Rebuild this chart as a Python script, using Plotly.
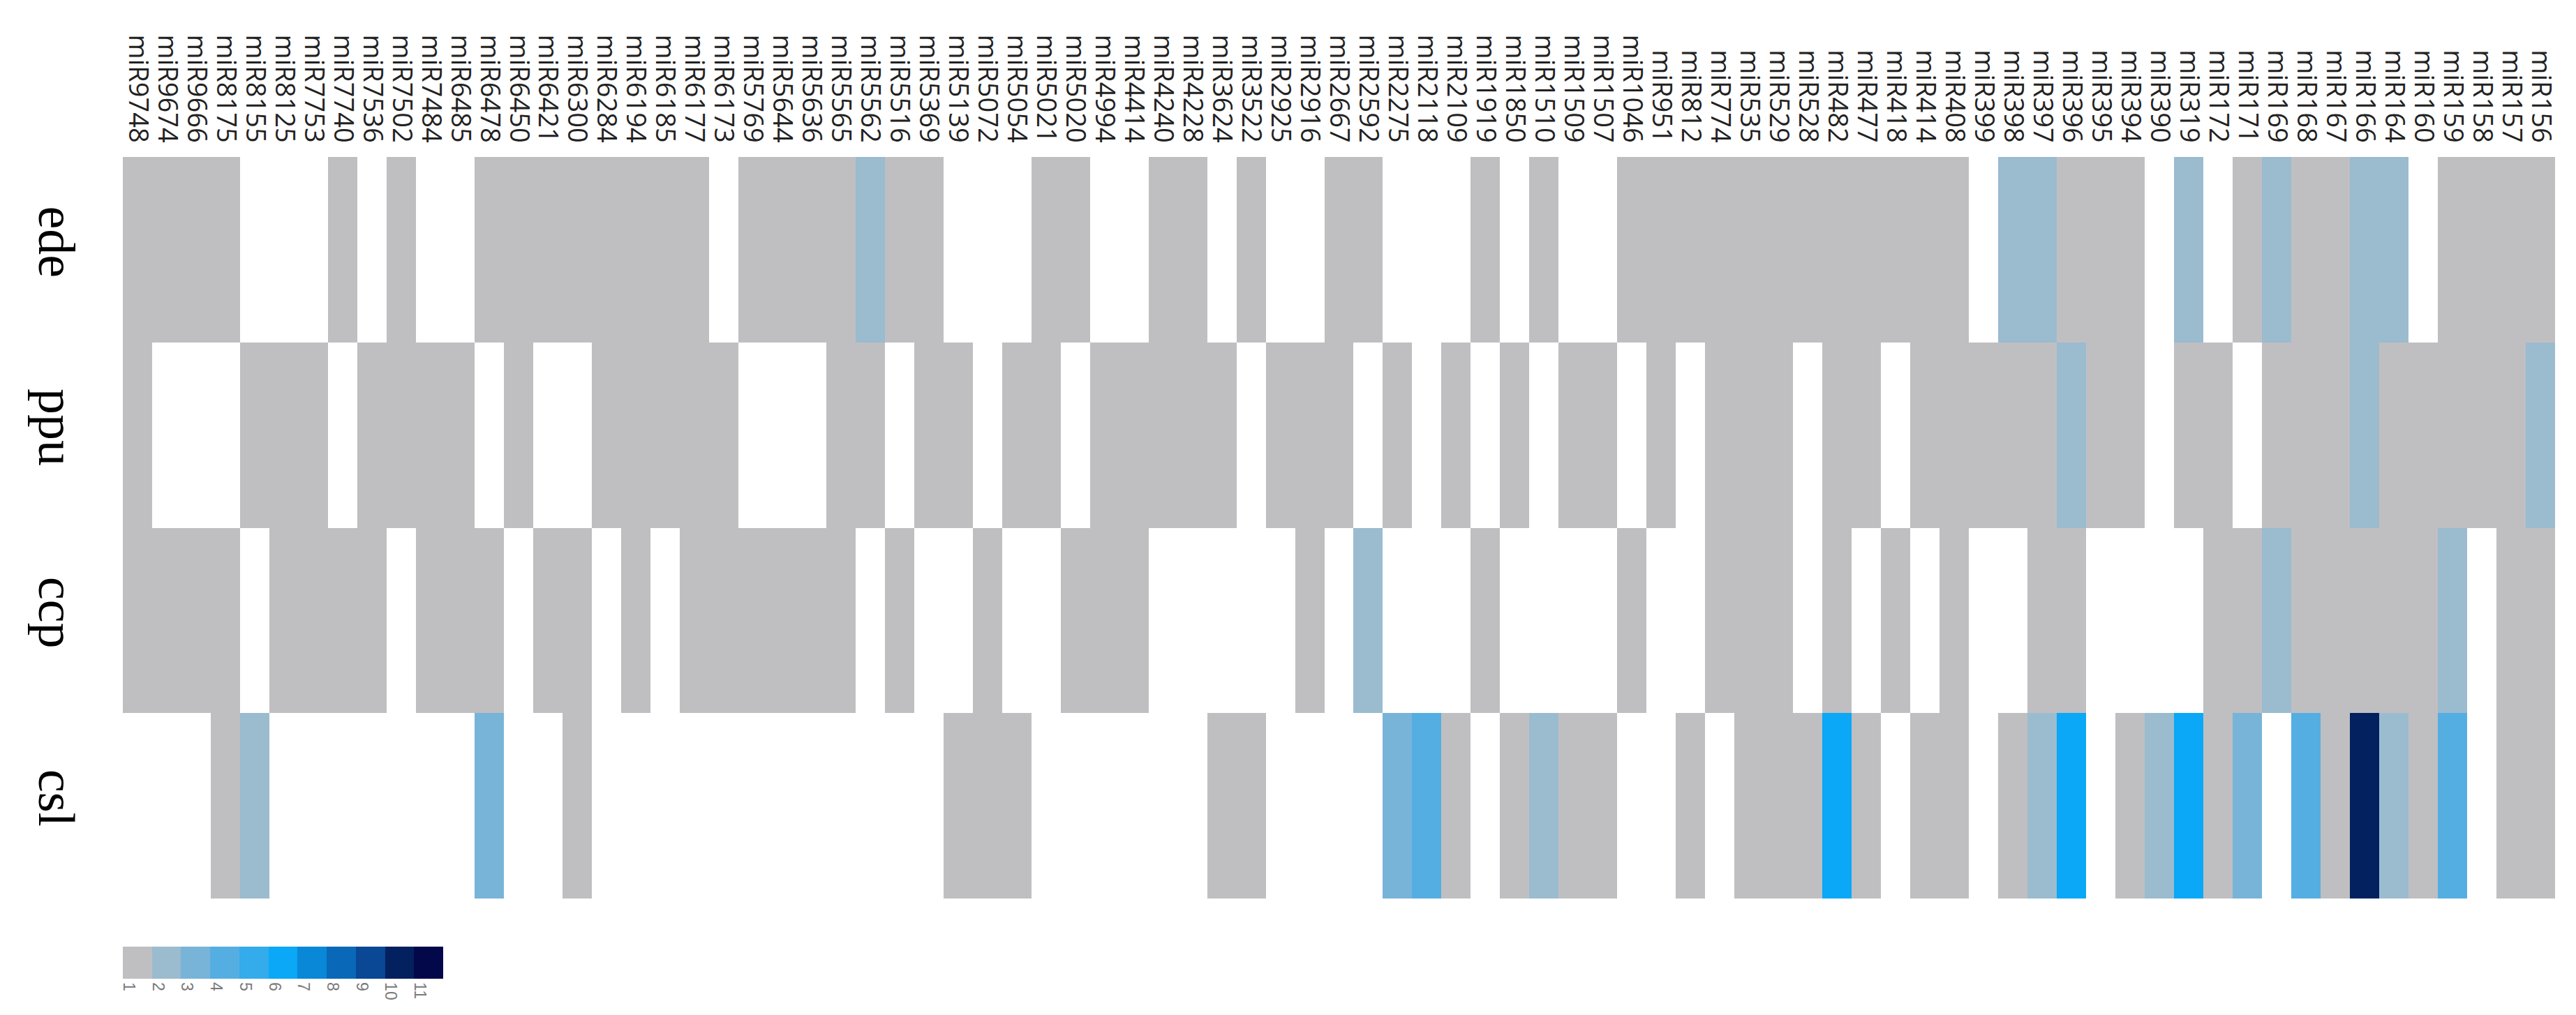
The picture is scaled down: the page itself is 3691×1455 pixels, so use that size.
import plotly.graph_objects as go

mirnas = ["miR9748", "miR9674", "miR9666", "miR8175", "miR8155", "miR8125", "miR7753",
          "miR7740", "miR7536", "miR7502", "miR7484", "miR6485", "miR6478", "miR6450",
          "miR6421", "miR6300", "miR6284", "miR6194", "miR6185", "miR6177", "miR6173",
          "miR5769", "miR5644", "miR5636", "miR5565", "miR5562", "miR5516", "miR5369",
          "miR5139", "miR5072", "miR5054", "miR5021", "miR5020", "miR4994", "miR4414",
          "miR4240", "miR4228", "miR3624", "miR3522", "miR2925", "miR2916", "miR2667",
          "miR2592", "miR2275", "miR2118", "miR2109", "miR1919", "miR1850", "miR1510",
          "miR1509", "miR1507", "miR1046", "miR951", "miR812", "miR774", "miR535",
          "miR529", "miR528", "miR482", "miR477", "miR418", "miR414", "miR408", "miR399",
          "miR398", "miR397", "miR396", "miR395", "miR394", "miR390", "miR319", "miR172",
          "miR171", "miR169", "miR168", "miR167", "miR166", "miR164", "miR160", "miR159",
          "miR158", "miR157", "miR156"]

species = ["ede", "ppu", "ccp", "csl"]

N = None
# number of members per family (None = family absent)
ede = [1, 1, 1, 1, N, N, N, 1, N, 1, N, N, 1, 1, 1, 1, 1, 1, 1, 1, N,
       1, 1, 1, 1, 2, 1, 1, N, N, N, 1, 1, N, N, 1, 1, N, 1, N, N,
       1, 1, N, N, N, 1, N, 1, N, N, 1, 1, 1, 1, 1, 1, 1, 1, 1, 1,
       1, 1, N, 2, 2, 1, 1, 1, N, 2, N, 1, 2, 1, 1, 2, 2, N, 1, 1, 1, 1]
ppu = [1, N, N, N, 1, 1, 1, N, 1, 1, 1, 1, N, 1, N, N, 1, 1, 1, 1, 1,
       N, N, N, 1, 1, N, 1, 1, N, 1, 1, N, 1, 1, 1, 1, 1, N, 1, 1,
       1, N, 1, N, 1, N, 1, N, 1, 1, N, 1, N, 1, 1, 1, N, 1, 1, N,
       1, 1, 1, 1, 1, 2, 1, 1, N, 1, 1, N, 1, 1, 1, 2, 1, 1, 1, 1, 1, 2]
ccp = [1, 1, 1, 1, N, 1, 1, 1, 1, N, 1, 1, 1, N, 1, 1, N, 1, N, 1, 1,
       1, 1, 1, 1, N, 1, N, N, 1, N, N, 1, 1, 1, N, N, N, N, N, 1,
       N, 2, N, N, N, 1, N, N, N, N, 1, N, N, 1, 1, 1, N, 1, N, 1,
       N, 1, N, N, 1, 1, N, N, N, N, 1, 1, 2, 1, 1, 1, 1, 1, 2, N, 1, 1]
csl = [N, N, N, 1, 2, N, N, N, N, N, N, N, 3, N, N, 1, N, N, N, N, N,
       N, N, N, N, N, N, N, 1, 1, 1, N, N, N, N, N, N, 1, 1, N, N,
       N, N, 3, 4, 1, N, 1, 2, 1, 1, N, N, 1, N, 1, 1, 1, 6, 1, N,
       1, 1, N, 1, 2, 6, N, 1, 2, 6, 1, 3, N, 4, 1, 10, 2, 1, 4, N, 1, 1]

levels = list(range(1, 12))
level_colors = ["#bfbfc2", "#9bbbcf", "#78b4d8", "#55aee2", "#34abeb", "#0aa8f6",
                "#0a88d8", "#0a68b8", "#0a4794", "#03205f", "#03084a"]

# discrete colour scale, one band per level
scale = []
for i, c in enumerate(level_colors):
    scale.append([i / len(level_colors), c])
    scale.append([(i + 1) / len(level_colors), c])

fig = go.Figure(go.Heatmap(
    z=[ede, ppu, ccp, csl], x=mirnas, y=species,
    colorscale=scale, zmin=0.5, zmax=11.5, xgap=0, ygap=0,
    hoverongaps=False,
    colorbar=dict(orientation="h", x=0, xanchor="left", y=-0.065, yanchor="top",
                  len=0.1317, lenmode="fraction", thickness=46, xpad=0, ypad=0,
                  outlinewidth=0, ticks="", tickangle=90,
                  tickvals=[v - 0.3 for v in levels], ticktext=[str(v) for v in levels],
                  tickfont=dict(family="Liberation Sans", size=23, color="#7a7a7a")),
))

fig.update_layout(
    width=3691, height=1455,
    margin=dict(l=168, r=38, t=217, b=175, autoexpand=False),
    plot_bgcolor="white", paper_bgcolor="white",
)
fig.update_xaxes(side="top", tickangle=90, showgrid=False, zeroline=False,
                 tickmode="array", tickvals=mirnas, ticktext=mirnas,
                 ticks="outside", ticklen=6, tickcolor="white",
                 tickfont=dict(family="Open Sans", size=38, color="#222222"))
fig.update_yaxes(autorange="reversed", tickangle=90, showgrid=False, zeroline=False,
                 ticks="outside", ticklen=30, tickcolor="white",
                 tickfont=dict(family="Liberation Serif", size=74, color="black"))

fig.write_html("out.html")
